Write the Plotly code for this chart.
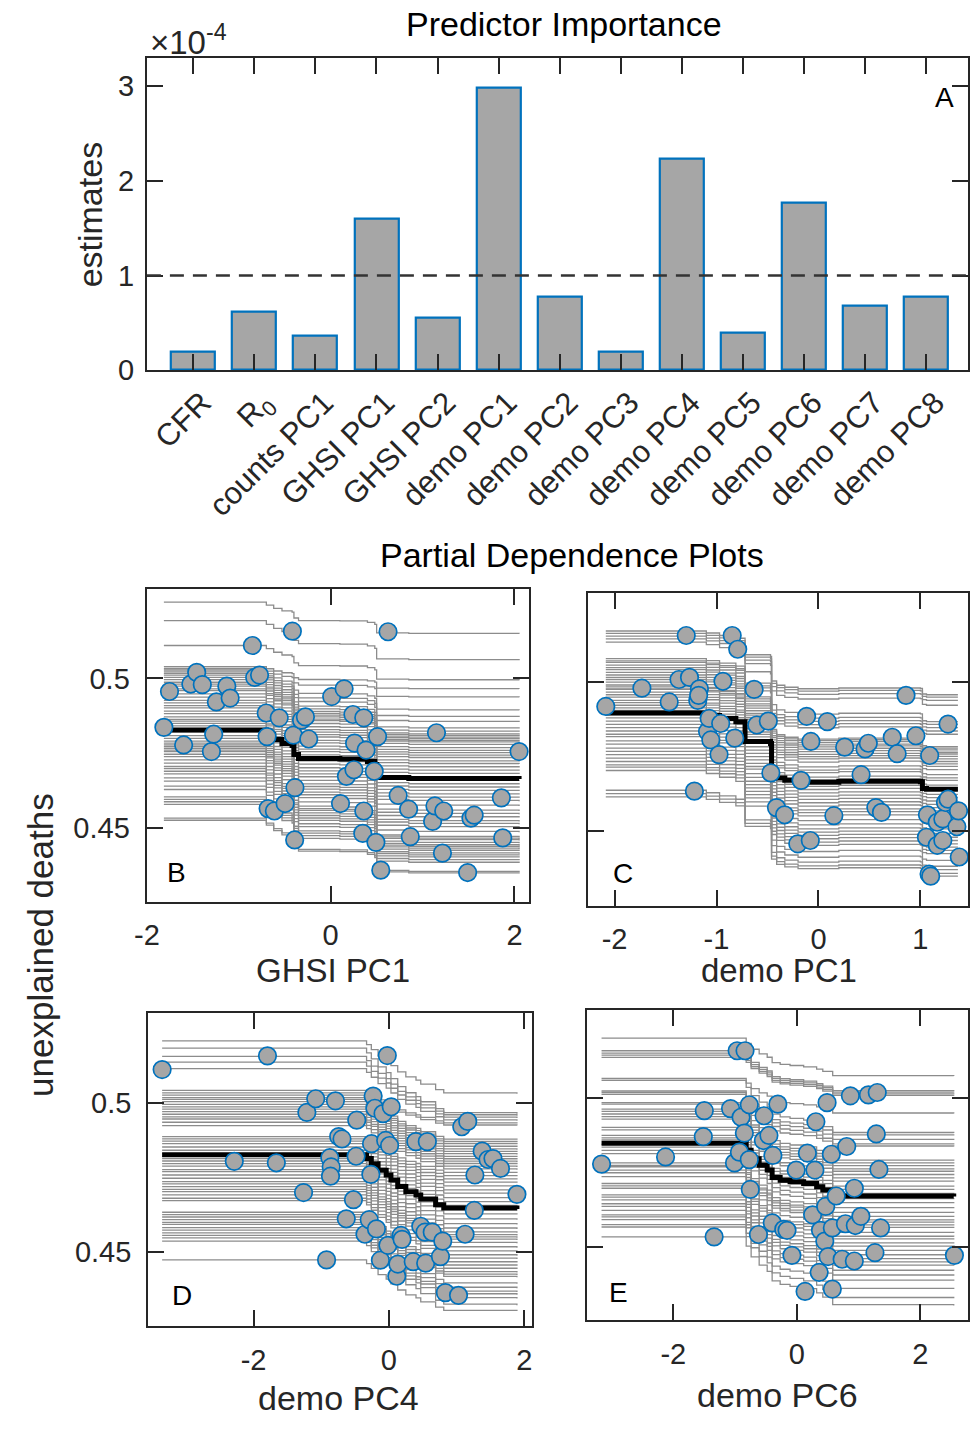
import plotly.graph_objects as go

W, H = 970, 1432
FONT = "Arial, Liberation Sans, Helvetica, sans-serif"
AX = "#262626"

# ---------------- Panel A : predictor importance ----------------
predictors = ["CFR", "R<sub>0</sub>", "counts PC1", "GHSI PC1", "GHSI PC2", "demo PC1",
              "demo PC2", "demo PC3", "demo PC4", "demo PC5", "demo PC6", "demo PC7", "demo PC8"]
importance = [0.20e-4, 0.62e-4, 0.36e-4, 1.60e-4, 0.557e-4, 2.99e-4, 0.774e-4,
              0.20e-4, 2.24e-4, 0.40e-4, 1.77e-4, 0.68e-4, 0.777e-4]
threshold = 1e-4
a_ticks = [0, 1e-4, 2e-4, 3e-4]
a_ticktext = ["0", "1", "2", "3"]

# ---------------- Panel B : GHSI PC1 ----------------
b_pts_x = [-1.815, -1.754, -1.60, -1.522, -1.458, -1.397, -1.298, -1.273, -1.244, -1.130, -1.094,
           -0.852, -0.827, -0.774, -0.702, -0.692, -0.681, -0.613, -0.560, -0.496, -0.417, -0.406,
           -0.389, -0.392, -0.317, -0.275, -0.239, 0.011, 0.107, 0.146, 0.171, 0.242, 0.260, 0.253,
           0.360, 0.360, 0.349, 0.385, 0.474, 0.510, 0.492, 0.545, 0.624, 0.734, 0.848, 0.866,
           1.109, 1.134, 1.151, 1.230, 1.216, 1.490, 1.526, 1.561, 1.857, 1.872, 2.050]
b_pts_y = [0.4836, 0.4956, 0.4777, 0.4981, 0.5020, 0.4979, 0.4755, 0.4813, 0.4921, 0.4974, 0.4934,
           0.5110, 0.5003, 0.5011, 0.4884, 0.4805, 0.4564, 0.4556, 0.4868, 0.4581, 0.5158, 0.4810,
           0.4634, 0.4459, 0.4860, 0.4871, 0.4797, 0.4939, 0.4581, 0.4965, 0.4672, 0.4879, 0.4783,
           0.4694, 0.4868, 0.4556, 0.4481, 0.4760, 0.4689, 0.4805, 0.4451, 0.4358, 0.5156, 0.4608,
           0.4562, 0.4470, 0.4521, 0.4573, 0.4818, 0.4556, 0.4415, 0.4350, 0.4532, 0.4542, 0.4600,
           0.4466, 0.4755]
b_mean_x = [-1.815, -0.76, -0.70, -0.62, -0.53, -0.42, -0.40, -0.35, 0.10, 0.40, 0.48, 0.50, 0.85, 2.05]
b_mean_y = [0.4827, 0.4827, 0.4812, 0.4795, 0.4782, 0.4775, 0.4745, 0.4732, 0.4730, 0.4722, 0.4712,
            0.4668, 0.4665, 0.4663]
b_ice_left = [0.5255, 0.5193, 0.5110, 0.5039, 0.5033, 0.5028, 0.5022, 0.5017, 0.5011, 0.5003, 0.4996,
              0.4987, 0.4981, 0.4974, 0.4965, 0.4959, 0.4948, 0.4937, 0.4926, 0.4918, 0.4909, 0.4901,
              0.4890, 0.4882, 0.4871, 0.4863, 0.4857, 0.4849, 0.4841, 0.4832, 0.4821, 0.4808, 0.4799,
              0.4790, 0.4783, 0.4777, 0.4772, 0.4766, 0.4760, 0.4755, 0.4746, 0.4738, 0.4727, 0.4716,
              0.4705, 0.4698, 0.4689, 0.4680, 0.4667, 0.4656, 0.4639, 0.4628, 0.4603, 0.4595, 0.4587,
              0.4578, 0.4532, 0.4525]
b_ice_right = [0.5149, 0.5061, 0.4994, 0.4965, 0.4937, 0.4893, 0.4871, 0.4854, 0.4832, 0.4821, 0.4812,
               0.4807, 0.4801, 0.4796, 0.4790, 0.4785, 0.4777, 0.4766, 0.4757, 0.4749, 0.4741, 0.4733,
               0.4722, 0.4713, 0.4702, 0.4691, 0.4680, 0.4667, 0.4656, 0.4645, 0.4634, 0.4623, 0.4611,
               0.4600, 0.4589, 0.4573, 0.4556, 0.4545, 0.4534, 0.4521, 0.4512, 0.4501, 0.4485, 0.4468,
               0.4462, 0.4457, 0.4448, 0.4440, 0.4435, 0.4429, 0.4422, 0.4413, 0.4407, 0.4400, 0.4391,
               0.4382, 0.4352, 0.4347]

# ---------------- Panel C : demo PC1 ----------------
c_pts_x = [-2.086, -1.732, -1.464, -1.368, -1.265, -1.297, -1.217, -1.184, -1.168, -1.175, -1.088,
           -1.072, -1.056, -0.975, -0.937, -0.959, -0.846, -0.792, -0.821, -0.631, -0.605, -0.492,
           -0.467, -0.412, -0.332, -0.203, -0.080, -0.171, -0.116, -0.074, 0.087, 0.151, 0.257,
           0.418, 0.457, 0.489, 0.563, 0.618, 0.724, 0.772, 0.859, 0.956, 1.091, 1.069, 1.059,
           1.085, 1.101, 1.165, 1.165, 1.220, 1.220, 1.246, 1.271, 1.271, 1.358, 1.374, 1.381]
c_pts_y = [0.4917, 0.4978, 0.4932, 0.5007, 0.5014, 0.5154, 0.4634, 0.4937, 0.4976, 0.4954, 0.4833,
           0.4877, 0.4805, 0.4756, 0.5001, 0.4860, 0.5154, 0.5108, 0.4811, 0.4974, 0.4855, 0.4868,
           0.4695, 0.4579, 0.4555, 0.4458, 0.4469, 0.4670, 0.4884, 0.4800, 0.4866, 0.4552, 0.4781,
           0.4689, 0.4775, 0.4794, 0.4579, 0.4563, 0.4814, 0.4759, 0.4954, 0.4819, 0.4753, 0.4555,
           0.4480, 0.4357, 0.4350, 0.4453, 0.4530, 0.4541, 0.4469, 0.4596, 0.4607, 0.4858, 0.4515,
           0.4568, 0.4414]
c_mean_x = [-2.086, -1.15, -1.10, -0.97, -0.81, -0.72, -0.47, -0.46, -0.41, -0.33, -0.20, 0.20,
            1.00, 1.02, 1.06, 1.368]
c_mean_y = [0.4895, 0.4895, 0.4887, 0.4877, 0.4866, 0.4800, 0.4793, 0.4695, 0.4678, 0.4670, 0.4664,
            0.4667, 0.4665, 0.4643, 0.4640, 0.4640]
c_ice_left = [0.5169, 0.5161, 0.5152, 0.5143, 0.5132, 0.5077, 0.5069, 0.5064, 0.5055, 0.5047, 0.5040,
              0.5031, 0.5022, 0.5014, 0.5007, 0.4998, 0.4989, 0.4985, 0.4978, 0.4974, 0.4965, 0.4956,
              0.4948, 0.4937, 0.4930, 0.4921, 0.4912, 0.4904, 0.4890, 0.4879, 0.4868, 0.4857, 0.4846,
              0.4835, 0.4824, 0.4816, 0.4802, 0.4791, 0.4778, 0.4767, 0.4756, 0.4744, 0.4733, 0.4722,
              0.4714, 0.4703, 0.4637, 0.4626, 0.4615]
c_ice_right = [0.4956, 0.4948, 0.4937, 0.4921, 0.4866, 0.4857, 0.4846, 0.4835, 0.4824, 0.4783, 0.4778,
               0.4772, 0.4764, 0.4758, 0.4750, 0.4742, 0.4733, 0.4725, 0.4717, 0.4706, 0.4689, 0.4678,
               0.4670, 0.4654, 0.4645, 0.4637, 0.4623, 0.4612, 0.4601, 0.4590, 0.4579, 0.4568, 0.4557,
               0.4544, 0.4535, 0.4524, 0.4508, 0.4493, 0.4480, 0.4469, 0.4458, 0.4447, 0.4436, 0.4425,
               0.4403, 0.4383, 0.4372, 0.4359, 0.4350]

# ---------------- Panel D : demo PC4 ----------------
d_pts_x = [-3.350, -1.794, -2.284, -1.663, -1.261, -1.212, -1.081, -0.790, -0.921, -0.873, -0.853,
           -0.863, -0.742, -0.693, -0.630, -0.524, -0.485, -0.475, -0.354, -0.291, -0.267, -0.257,
           -0.233, -0.208, -0.184, -0.126, -0.087, -0.048, -0.024, 0.010, 0.034, -0.015, 0.116,
           0.131, 0.179, 0.194, 0.359, 0.398, 0.470, 0.533, 0.543, 0.567, 0.640, 0.761, 0.795,
           0.834, 1.028, 1.076, 1.164, 1.125, 1.261, 1.270, 1.377, 1.464, 1.537, 1.648, 1.891]
d_pts_y = [0.5111, 0.5157, 0.4803, 0.4798, 0.4698, 0.4967, 0.5013, 0.5006, 0.4472, 0.4815, 0.4784,
           0.4753, 0.4886, 0.4878, 0.4610, 0.4674, 0.4820, 0.4941, 0.4558, 0.4607, 0.4759, 0.4862,
           0.5022, 0.4981, 0.4576, 0.4471, 0.4963, 0.4873, 0.5158, 0.4856, 0.4986, 0.4521, 0.4417,
           0.4458, 0.4554, 0.4541, 0.4466, 0.4869, 0.4585, 0.4565, 0.4461, 0.4869, 0.4565, 0.4483,
           0.4535, 0.4362, 0.4353, 0.4919, 0.4937, 0.4558, 0.4638, 0.4757, 0.4837, 0.4809, 0.4812,
           0.4779, 0.4692]
d_mean_x = [-3.35, -0.43, -0.33, -0.26, -0.16, -0.04, 0.03, 0.13, 0.25, 0.40, 0.47, 0.69, 0.81, 1.891]
d_mean_y = [0.4825, 0.4825, 0.4812, 0.4795, 0.4773, 0.4757, 0.4740, 0.4718, 0.4701, 0.4690, 0.4676,
            0.4657, 0.4646, 0.4643]
d_ice_left = [0.5207, 0.5183, 0.5155, 0.5136, 0.5114, 0.5041, 0.5033, 0.5025, 0.5017, 0.5011, 0.5003,
              0.4994, 0.4986, 0.4978, 0.4970, 0.4961, 0.4952, 0.4945, 0.4934, 0.4923, 0.4886, 0.4878,
              0.4871, 0.4862, 0.4851, 0.4840, 0.4829, 0.4820, 0.4812, 0.4804, 0.4795, 0.4787, 0.4775,
              0.4768, 0.4757, 0.4746, 0.4735, 0.4727, 0.4718, 0.4709, 0.4701, 0.4690, 0.4679, 0.4671,
              0.4632, 0.4624, 0.4616, 0.4607, 0.4598, 0.4591, 0.4580, 0.4572, 0.4563, 0.4554, 0.4546,
              0.4535, 0.4472]
d_ice_right = [0.5030, 0.4963, 0.4956, 0.4948, 0.4939, 0.4930, 0.4923, 0.4875, 0.4867, 0.4860, 0.4851,
               0.4842, 0.4834, 0.4826, 0.4817, 0.4809, 0.4801, 0.4793, 0.4784, 0.4775, 0.4764, 0.4753,
               0.4742, 0.4731, 0.4718, 0.4705, 0.4694, 0.4679, 0.4665, 0.4652, 0.4638, 0.4624, 0.4607,
               0.4591, 0.4576, 0.4563, 0.4554, 0.4546, 0.4539, 0.4528, 0.4513, 0.4499, 0.4486, 0.4475,
               0.4463, 0.4452, 0.4441, 0.4430, 0.4421, 0.4414, 0.4392, 0.4377, 0.4364, 0.4355, 0.4342,
               0.4320, 0.4300]

# ---------------- Panel E : demo PC6 ----------------
e_pts_x = [-3.161, -2.125, -1.498, -1.514, -1.339, -1.073, -1.009, -0.967, -0.839, -0.930, -0.903,
           -0.850, -0.770, -0.770, -0.754, -0.622, -0.531, -0.542, -0.452, -0.388, -0.398, -0.308,
           -0.212, -0.159, -0.080, -0.011, 0.133, 0.170, 0.255, 0.292, 0.308, 0.361, 0.382, 0.452,
           0.467, 0.489, 0.505, 0.558, 0.574, 0.574, 0.637, 0.733, 0.786, 0.807, 0.866, 0.930,
           0.946, 0.930, 1.036, 1.158, 1.301, 1.264, 1.286, 1.328, 1.355, 2.550]
e_pts_y = [0.4777, 0.4801, 0.4956, 0.4869, 0.4533, 0.4963, 0.4781, 0.5157, 0.5157, 0.4817, 0.4934,
           0.4881, 0.4976, 0.4792, 0.4692, 0.4541, 0.4939, 0.4856, 0.4873, 0.4806, 0.4580, 0.4978,
           0.4558, 0.4555, 0.4471, 0.4757, 0.4350, 0.4814, 0.4607, 0.4757, 0.4919, 0.4414, 0.4555,
           0.4519, 0.4635, 0.4983, 0.4467, 0.4810, 0.4563, 0.4358, 0.4670, 0.4458, 0.4577, 0.4836,
           0.5006, 0.4696, 0.4571, 0.4452, 0.4602, 0.5009, 0.5017, 0.4480, 0.4878, 0.4759, 0.4563,
           0.4471]
e_mean_x = [-3.161, -0.86, -0.82, -0.74, -0.61, -0.48, -0.40, -0.27, -0.11, 0.11, 0.32, 0.42, 0.58, 2.539]
e_mean_y = [0.4847, 0.4847, 0.4823, 0.4795, 0.4773, 0.4757, 0.4732, 0.4723, 0.4718, 0.4712, 0.4701,
            0.4690, 0.4670, 0.4668]
e_ice_left = [0.5199, 0.5157, 0.5149, 0.5142, 0.5135, 0.5064, 0.5058, 0.5022, 0.5017, 0.5011, 0.4983,
              0.4978, 0.4961, 0.4954, 0.4945, 0.4936, 0.4928, 0.4900, 0.4892, 0.4873, 0.4865, 0.4858,
              0.4843, 0.4834, 0.4823, 0.4812, 0.4781, 0.4773, 0.4768, 0.4757, 0.4748, 0.4735, 0.4712,
              0.4704, 0.4696, 0.4674, 0.4666, 0.4657, 0.4644, 0.4635, 0.4622, 0.4607, 0.4600, 0.4591,
              0.4574, 0.4566, 0.4533]
e_ice_right = [0.5072, 0.5022, 0.5017, 0.5011, 0.5006, 0.4947, 0.4881, 0.4873, 0.4858, 0.4843, 0.4836,
               0.4788, 0.4779, 0.4770, 0.4759, 0.4751, 0.4740, 0.4729, 0.4718, 0.4701, 0.4690, 0.4677,
               0.4659, 0.4646, 0.4629, 0.4613, 0.4600, 0.4588, 0.4580, 0.4571, 0.4563, 0.4546, 0.4533,
               0.4524, 0.4511, 0.4500, 0.4486, 0.4471, 0.4458, 0.4447, 0.4436, 0.4419, 0.4403, 0.4386,
               0.4358, 0.4327, 0.4303]

pd_yticks = [0.45, 0.5]
pd_yticktext = ["0.45", "0.5"]

# ---------------- figure ----------------
fig = go.Figure()

BAR_FILL = "#A6A6A6"
EDGE_BLUE = "#0072BD"
ICE_GREY = "#8C8C8C"

fig.add_trace(go.Bar(x=predictors, y=importance, width=0.72, marker=dict(color=BAR_FILL,
                     line=dict(color=EDGE_BLUE, width=2.2)), xaxis="x", yaxis="y", showlegend=False))


def ice_lines(mx, my, left, right):
    mL, mR = my[0], my[-1]
    xs, ys = [], []
    for L, R in zip(sorted(left), sorted(right)):
        for x, m in zip(mx, my):
            s = (m - mR) / (mL - mR)
            xs.append(x)
            ys.append(R + (L - R) * s)
        xs.append(None)
        ys.append(None)
    return xs, ys


panels = [
    ("x2", "y2", b_pts_x, b_pts_y, b_mean_x, b_mean_y, b_ice_left, b_ice_right),
    ("x3", "y3", c_pts_x, c_pts_y, c_mean_x, c_mean_y, c_ice_left, c_ice_right),
    ("x4", "y4", d_pts_x, d_pts_y, d_mean_x, d_mean_y, d_ice_left, d_ice_right),
    ("x5", "y5", e_pts_x, e_pts_y, e_mean_x, e_mean_y, e_ice_left, e_ice_right),
]
for xa, ya, px, py, mx, my, il, ir in panels:
    ix, iy = ice_lines(mx, my, il, ir)
    fig.add_trace(go.Scatter(x=ix, y=iy, mode="lines", line=dict(color=ICE_GREY, width=1.3, shape="hv"),
                             xaxis=xa, yaxis=ya, showlegend=False, connectgaps=False))
    fig.add_trace(go.Scatter(x=mx, y=my, mode="lines", line=dict(color="black", width=5, shape="hv"),
                             xaxis=xa, yaxis=ya, showlegend=False))
    fig.add_trace(go.Scatter(x=px, y=py, mode="markers",
                             marker=dict(size=17.5, color=BAR_FILL, line=dict(color=EDGE_BLUE, width=1.7)),
                             xaxis=xa, yaxis=ya, showlegend=False))


def px_dom(a, b, total):
    return [a / total, b / total]


def py_dom(top, bottom):
    return [1 - bottom / H, 1 - top / H]


TICKFONT = dict(family=FONT, size=29, color=AX)
common = dict(showline=True, linecolor=AX, linewidth=2, mirror="ticks", ticks="inside", ticklen=16,
              tickwidth=2, tickcolor=AX, showgrid=False, zeroline=False, tickfont=TICKFONT)

layout = dict(
    width=W, height=H, margin=dict(l=0, r=0, t=0, b=0), paper_bgcolor="white", plot_bgcolor="white",
    font=dict(family=FONT, color=AX), showlegend=False, bargap=0,
    xaxis=dict(common, domain=px_dom(136, 970, W), range=[-0.757, 12.683], tickangle=-45,
               tickfont=dict(family=FONT, size=31, color=AX), ticklabelshift=9, anchor="y"),
    yaxis=dict(common, domain=py_dom(58.3, 374.3), range=[0, 3.303e-4], tickvals=a_ticks,
               ticktext=a_ticktext, ticklabelstandoff=5, anchor="x"),
    xaxis2=dict(common, domain=px_dom(135.7, 524.3, W), range=[-2.003, 2.160], tickvals=[-2, 0, 2],
                ticktext=["-2", "0", "2"], ticklabelstandoff=6, anchor="y2"),
    yaxis2=dict(common, domain=py_dom(595.7, 912), range=[0.4252, 0.5299], tickvals=pd_yticks,
                ticktext=pd_yticktext, ticklabelstandoff=9, anchor="x2"),
    xaxis3=dict(common, domain=px_dom(584.3, 970, W), range=[-2.258, 1.467], tickvals=[-2, -1, 0, 1],
                ticktext=["-2", "-1", "0", "1"], ticklabelstandoff=6, anchor="y3"),
    yaxis3=dict(common, domain=py_dom(600, 916), range=[0.4251, 0.5295], tickvals=pd_yticks,
                showticklabels=False, anchor="x3"),
    xaxis4=dict(common, domain=px_dom(137.3, 526.7, W), range=[-3.556, 2.107], tickvals=[-2, 0, 2],
                ticktext=["-2", "0", "2"], ticklabelstandoff=7, anchor="y4"),
    yaxis4=dict(common, domain=py_dom(1024.7, 1341), range=[0.4250, 0.5300], tickvals=pd_yticks,
                ticktext=pd_yticktext, ticklabelstandoff=9, anchor="x4"),
    xaxis5=dict(common, domain=px_dom(583.3, 970, W), range=[-3.392, 2.770], tickvals=[-2, 0, 2],
                ticktext=["-2", "0", "2"], ticklabelstandoff=7, anchor="y5"),
    yaxis5=dict(common, domain=py_dom(1021, 1335.3), range=[0.4253, 0.5295], tickvals=pd_yticks,
                showticklabels=False, anchor="x5"),
)
fig.update_layout(**layout)

fig.add_shape(type="line", xref="x domain", yref="y", x0=0, x1=1, y0=threshold, y1=threshold,
              line=dict(color="#333333", width=2.5, dash="14px,9px"), layer="above")


def note(text, x, y, size, angle=0, xanchor="center", color=AX):
    fig.add_annotation(text=text, x=x / W, y=1 - y / H, xref="paper", yref="paper", showarrow=False,
                       textangle=angle, xanchor=xanchor, yanchor="middle",
                       font=dict(family=FONT, size=size, color=color))


note("Predictor Importance", 560, 24, 34, color="black")
note("×10<sup>-4</sup>", 137, 40, 33, xanchor="left")
note("A", 946, 99, 28, color="black")
note("estimates", 78, 217, 34, angle=-90)
note("Partial Dependence Plots", 568, 561, 34, color="black")
note("unexplained deaths", 28, 956, 35, angle=-90)
note("GHSI PC1", 325, 981, 33)
note("demo PC1", 778, 981, 33)
note("demo PC4", 331, 1414, 34)
note("demo PC6", 777, 1411, 34)
note("B", 166, 882, 28, color="black")
note("C", 620, 883, 28, color="black")
note("D", 172, 1310, 28, color="black")
note("E", 615, 1307, 28, color="black")

fig.write_html("out.html", config={"displayModeBar": False},
               post_script="document.body.style.margin='0px';document.body.style.overflow='hidden';")
